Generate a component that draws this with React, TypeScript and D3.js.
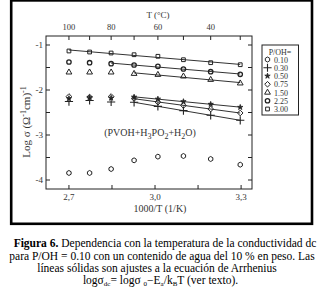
import React from "react";
import * as d3 from "d3";

// ---- data ----
const invT = [2.70, 2.772, 2.847, 2.927, 3.01, 3.099, 3.194, 3.297]; // 1000/T (1/K)
const tempLabels = ["100", "", "80", "", "60", "", "40", ""]; // top axis T (°C), one per point
const series = ["0.10", "0.30", "0.50", "0.75", "1.50", "2.25", "3.00"];
const s010 = [-3.844, -3.844, -3.756, -3.563, -3.481, -3.467, -3.533, -3.66];
const s030 = [-2.256, -2.233, -2.267, -2.273, -2.364, -2.458, -2.562, -2.673];
const s050 = [-2.189, -2.167, -2.178, -2.156, -2.2, -2.256, -2.316, -2.384];
const s075 = [-2.144, -2.156, -2.144, -2.189, -2.271, -2.344, -2.422, -2.511];
const s150 = [-1.607, -1.607, -1.607, -1.638, -1.66, -1.696, -1.771, -1.851];
const s225 = [-1.378, -1.393, -1.416, -1.444, -1.473, -1.533, -1.593, -1.651];
const s300 = [-1.133, -1.156, -1.178, -1.216, -1.251, -1.327, -1.393, -1.438];
const fitStart = [-1, 3, 3, 3, 3, 2, 0]; // first point of each Arrhenius fit (-1 = no fit)
const xTicks = [2.7, 2.85, 3.0, 3.15, 3.3];
const xTickLabels = ["2,7", "", "3,0", "", "3,3"];
const yTicks = [-4, -3.5, -3, -2.5, -2, -1.5, -1];

const values = [s010, s030, s050, s075, s150, s225, s300];

const x = d3.scaleLinear().domain([2.62, 3.338]).range([46, 252]);
const y = d3.scaleLinear().domain([-4.2, -0.8]).range([189, 36]);

const INK = "#222";
const FONT = "'Liberation Serif', 'Times New Roman', serif";

function hexPath(r: number) {
  const pts: [number, number][] = d3.range(6).map((i) => {
    const a = (Math.PI / 3) * i + Math.PI / 6;
    return [r * Math.cos(a), r * Math.sin(a)];
  });
  return (d3.line()(pts) || "") + "Z";
}

function Marker({ idx, cx, cy }: { idx: number; cx: number; cy: number }) {
  const t = `translate(${cx},${cy})`;
  switch (idx) {
    case 0:
      return <path transform={t} d={hexPath(2.5)} fill="none" stroke={INK} strokeWidth={1} />;
    case 1:
      return <path transform={t} d={d3.symbol(d3.symbolPlus, 24)() || ""} fill="none" stroke={INK} strokeWidth={1.1} />;
    case 2:
      return <path transform={t} d={d3.symbol(d3.symbolStar, 9)() || ""} fill={INK} stroke={INK} strokeWidth={0.8} />;
    case 3:
      return <path transform={t} d={d3.symbol(d3.symbolDiamond2, 20)() || ""} fill="none" stroke={INK} strokeWidth={1} />;
    case 4:
      return <path transform={t} d={d3.symbol(d3.symbolTriangle2, 24)() || ""} fill="none" stroke={INK} strokeWidth={1} />;
    case 5:
      return <circle cx={cx} cy={cy} r={2.2} fill="none" stroke={INK} strokeWidth={1.3} />;
    default:
      return <path transform={t} d={d3.symbol(d3.symbolSquare2, 18)() || ""} fill="none" stroke={INK} strokeWidth={1} />;
  }
}

function fitLine(vals: number[], start: number) {
  const xs = invT.slice(start);
  const ys = vals.slice(start);
  const mx = d3.mean(xs) as number;
  const my = d3.mean(ys) as number;
  let num = 0, den = 0;
  xs.forEach((xv, i) => { num += (xv - mx) * (ys[i] - my); den += (xv - mx) ** 2; });
  const b = num / den;
  const a = my - b * mx;
  const x0 = xs[0], x1 = xs[xs.length - 1];
  return d3.line()([[x(x0), y(a + b * x0)], [x(x1), y(a + b * x1)]]) || "";
}

export default function App() {
  const [x0, x1] = x.range();
  const [y0, y1] = y.range();
  const legendRow = (i: number) => 59.5 + 8.25 * i;
  return (
    <div style={{ position: "fixed", left: 0, top: 0 }}>
      <svg width={325} height={298} style={{ display: "block", background: "#fff" }} fontFamily={FONT}>
        <rect x={11.2} y={0.4} width={300.8} height={223.4} fill="none" stroke="#000" strokeWidth={2.6} />
        {/* plot frame */}
        <rect x={x0} y={y1} width={x1 - x0} height={y0 - y1} fill="none" stroke={INK} strokeWidth={1} />
        {/* bottom ticks */}
        {xTicks.map((t, i) => (
          <g key={"xt" + i}>
            <line x1={x(t)} x2={x(t)} y1={y0} y2={y0 - 4} stroke={INK} />
            <text x={x(t)} y={200} fontSize={9} textAnchor="middle" fill="#333">{xTickLabels[i]}</text>
          </g>
        ))}
        {/* top ticks (temperature) */}
        {invT.map((t, i) => (
          <g key={"tt" + i}>
            <line x1={x(t)} x2={x(t)} y1={y1} y2={y1 + 4} stroke={INK} />
            <text x={x(t)} y={30} fontSize={8.5} textAnchor="middle" fill="#333">{tempLabels[i]}</text>
          </g>
        ))}
        {/* left/right ticks */}
        {yTicks.map((t, i) => {
          const major = Number.isInteger(t);
          return (
            <g key={"yt" + i}>
              <line x1={x0} x2={x0 + 4} y1={y(t)} y2={y(t)} stroke={INK} />
              <line x1={x1} x2={x1 - 4} y1={y(t)} y2={y(t)} stroke={INK} />
              {major && (
                <text x={43} y={y(t) + 3} fontSize={9} textAnchor="end" fill="#333">{"-" + Math.abs(t)}</text>
              )}
            </g>
          );
        })}
        {/* axis titles */}
        <text x={158} y={18} fontSize={9} textAnchor="middle" fill="#333">T (°C)</text>
        <text x={160} y={211.5} fontSize={10} textAnchor="middle" fill="#333">1000/T (1/K)</text>
        <text transform="translate(30,122) rotate(-90)" fontSize={11} textAnchor="middle" fill="#333">
          Log σ (Ω<tspan dy={-4} fontSize={8}>-1</tspan><tspan dy={4}>cm)</tspan><tspan dy={-4} fontSize={8}>-1</tspan>
        </text>
        {/* annotation */}
        <text x={150} y={136} fontSize={10} textAnchor="middle" fill="#333">
          (PVOH+H<tspan dy={3} fontSize={8}>3</tspan><tspan dy={-3}>PO</tspan><tspan dy={3} fontSize={8}>2</tspan><tspan dy={-3}>+H</tspan><tspan dy={3} fontSize={8}>2</tspan><tspan dy={-3}>O)</tspan>
        </text>
        {/* fit lines */}
        {values.map((v, si) =>
          fitStart[si] >= 0 ? (
            <path key={"f" + si} d={fitLine(v, fitStart[si])} stroke="#333" strokeWidth={1} fill="none" />
          ) : null
        )}
        {/* markers */}
        {values.map((v, si) => v.map((val, i) => <Marker key={si + "-" + i} idx={si} cx={x(invT[i])} cy={y(val)} />))}
        {/* legend */}
        <rect x={262} y={45} width={36.5} height={70} fill="#fff" stroke={INK} strokeWidth={1} />
        <text x={280} y={54.5} fontSize={8} textAnchor="middle" fill="#333">P/OH=</text>
        {series.map((s, i) => (
          <g key={"lg" + i}>
            <Marker idx={i} cx={267.5} cy={legendRow(i)} />
            <text x={274} y={legendRow(i) + 3} fontSize={8} fill="#333">{s}</text>
          </g>
        ))}
        {/* caption */}
        <g fontSize={11.5} fill="#000" textAnchor="middle">
          <text x={165} y={247}>
            <tspan fontWeight="bold">Figura 6.</tspan> Dependencia con la temperatura de la conductividad dc
          </text>
          <text x={162} y={259.5}>para P/OH = 0.10 con un contenido de agua del 10 % en peso. Las</text>
          <text x={157} y={271.5}>líneas sólidas son ajustes a la ecuación de Arrhenius</text>
          <text x={160.5} y={284}>
            logσ<tspan dy={2} fontSize={7}>dc</tspan><tspan dy={-2}>= logσ </tspan><tspan dy={2} fontSize={7}>0</tspan><tspan dy={-2}>−E</tspan><tspan dy={2} fontSize={7}>a</tspan><tspan dy={-2}>/k</tspan><tspan dy={2} fontSize={7}>B</tspan><tspan dy={-2}>T (ver texto).</tspan>
          </text>
        </g>
      </svg>
    </div>
  );
}
